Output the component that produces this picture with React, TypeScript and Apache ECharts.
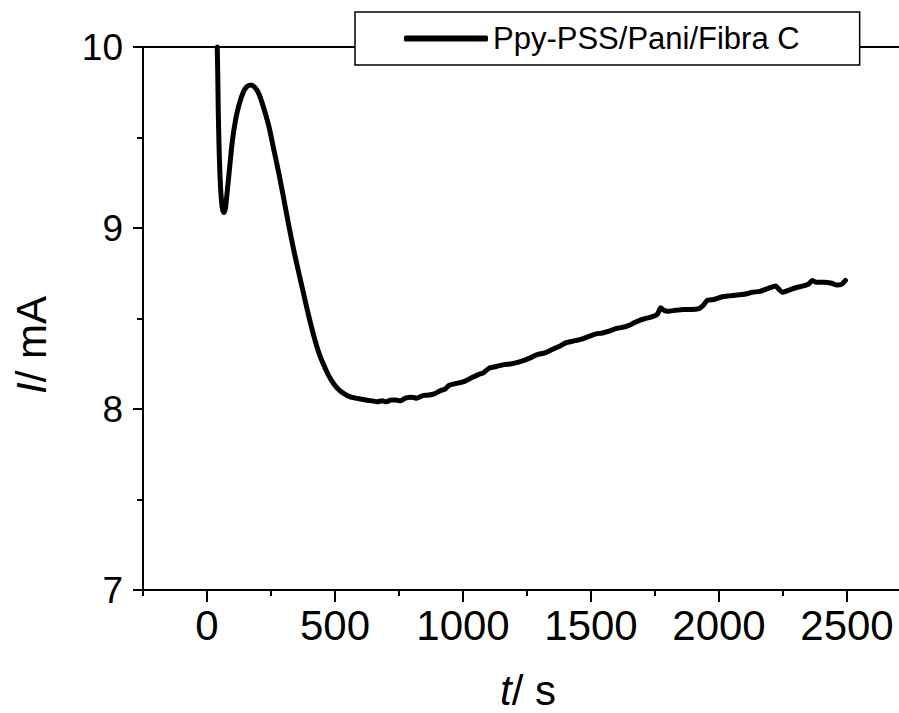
import React, { useEffect, useRef } from "react";
import * as echarts from "echarts";

const seriesName = "Ppy-PSS/Pani/Fibra C";

const times = [
  40, 42, 44, 47, 51, 56, 61, 66, 72, 79, 88, 99, 112, 125, 140, 155, 172, 188, 203, 220,
  242, 260, 281, 300, 320, 340, 359, 380, 398, 418, 437, 457, 477, 497, 516, 535, 555, 580,
  600, 620, 645, 665, 685, 700, 720, 737, 755, 775, 800, 820, 845, 867, 890, 910, 930, 945,
  970, 1000, 1030, 1060, 1080, 1102, 1130, 1160, 1190, 1220, 1258, 1290, 1320, 1350, 1375,
  1401, 1430, 1460, 1490, 1520, 1545, 1570, 1600, 1635, 1660, 1690, 1713, 1740, 1760, 1772,
  1785, 1800, 1830, 1860, 1890, 1922, 1940, 1954, 1980, 2013, 2040, 2070, 2104, 2130, 2160,
  2190, 2221, 2235, 2247, 2270, 2300, 2330, 2350, 2364, 2380, 2410, 2440, 2460, 2480, 2494
];

const currents = [
  10.0, 9.85, 9.65, 9.45, 9.28, 9.16, 9.1, 9.085, 9.11, 9.2, 9.33, 9.48, 9.6, 9.68, 9.745,
  9.78, 9.79, 9.775, 9.74, 9.67, 9.56, 9.44, 9.3, 9.16, 9.01, 8.87, 8.75, 8.62, 8.51, 8.4,
  8.31, 8.24, 8.18, 8.135, 8.105, 8.085, 8.07, 8.06, 8.055, 8.05, 8.045, 8.04, 8.045, 8.04,
  8.05, 8.05, 8.045, 8.06, 8.065, 8.06, 8.075, 8.077, 8.085, 8.1, 8.11, 8.13, 8.14, 8.15,
  8.17, 8.19, 8.2, 8.225, 8.235, 8.245, 8.25, 8.26, 8.28, 8.3, 8.31, 8.33, 8.345, 8.365,
  8.375, 8.385, 8.4, 8.415, 8.42, 8.43, 8.445, 8.455, 8.47, 8.49, 8.5, 8.51, 8.525, 8.56,
  8.545, 8.54, 8.545, 8.55, 8.55, 8.555, 8.575, 8.6, 8.605, 8.62, 8.625, 8.63, 8.635, 8.645,
  8.65, 8.665, 8.68, 8.66, 8.645, 8.655, 8.67, 8.68, 8.69, 8.71, 8.7, 8.7, 8.695, 8.685,
  8.69, 8.71
];

const xMajorTicks = [0, 500, 1000, 1500, 2000, 2500];
const xMinorTicks = [-250, 250, 750, 1250, 1750, 2250];
const yMajorTicks = [7, 8, 9, 10];
const yMinorTicks = [7.5, 8.5, 9.5];

const FONT = "'Liberation Sans', Arial, Helvetica, sans-serif";

export default function App() {
  const ref = useRef<HTMLDivElement>(null);

  useEffect(() => {
    if (!ref.current) return;
    const chart = echarts.init(ref.current, undefined, { renderer: "svg" });
    const data = times.map((t, k) => [t, currents[k]]);

    chart.setOption({
      animation: false,
      backgroundColor: "#ffffff",
      grid: {
        left: 143,
        top: 47,
        width: 768,
        height: 543,
        outerBoundsMode: "none",
        containLabel: false,
        show: true,
        borderColor: "#000",
        borderWidth: 2,
        backgroundColor: "transparent",
      },
      legend: {
        left: 355,
        top: 12,
        padding: [8, 60, 8, 49],
        backgroundColor: "#fff",
        borderColor: "#000",
        borderWidth: 1.5,
        borderRadius: 0,
        icon: "roundRect",
        itemWidth: 84,
        itemHeight: 6,
        selectedMode: false,
        data: [{ name: seriesName }],
        textStyle: {
          color: "#000",
          fontFamily: FONT,
          fontSize: 31,
          lineHeight: 37,
        },
      },
      xAxis: [
        {
          type: "value",
          min: -250,
          max: 2750,
          position: "bottom",
          splitLine: { show: false },
          axisLine: { show: true, onZero: false, lineStyle: { color: "#000", width: 2 } },
          axisTick: {
            show: true,
            inside: false,
            length: 12,
            customValues: xMajorTicks,
            lineStyle: { color: "#000", width: 2 },
          },
          axisLabel: {
            customValues: xMajorTicks,
            formatter: (v: number) => String(v),
            margin: 14,
            color: "#000",
            fontFamily: FONT,
            fontSize: 42,
          },
        },
        {
          type: "value",
          min: -250,
          max: 2750,
          position: "bottom",
          splitLine: { show: false },
          axisLine: { show: false, onZero: false },
          axisTick: {
            show: true,
            inside: false,
            length: 6,
            customValues: xMinorTicks,
            lineStyle: { color: "#000", width: 2 },
          },
          axisLabel: { show: false },
        },
      ],
      yAxis: [
        {
          type: "value",
          min: 7,
          max: 10,
          position: "left",
          splitLine: { show: false },
          axisLine: { show: true, onZero: false, lineStyle: { color: "#000", width: 2 } },
          axisTick: {
            show: true,
            inside: false,
            length: 10,
            customValues: yMajorTicks,
            lineStyle: { color: "#000", width: 2 },
          },
          axisLabel: {
            customValues: yMajorTicks,
            formatter: (v: number) => String(v),
            margin: 20,
            color: "#000",
            fontFamily: FONT,
            fontSize: 37,
          },
        },
        {
          type: "value",
          min: 7,
          max: 10,
          position: "left",
          splitLine: { show: false },
          axisLine: { show: false, onZero: false },
          axisTick: {
            show: true,
            inside: false,
            length: 6,
            customValues: yMinorTicks,
            lineStyle: { color: "#000", width: 2 },
          },
          axisLabel: { show: false },
        },
      ],
      series: [
        {
          name: seriesName,
          type: "line",
          xAxisIndex: 0,
          yAxisIndex: 0,
          data,
          showSymbol: false,
          symbol: "none",
          smooth: 0.2,
          clip: false,
          itemStyle: { color: "#000" },
          lineStyle: { color: "#000", width: 5, cap: "round", join: "round" },
        },
      ],
      graphic: [
        {
          type: "text",
          x: 528,
          y: 690,
          style: {
            text: "{i|t}/ s",
            fill: "#000",
            fontFamily: FONT,
            fontSize: 42,
            align: "center",
            verticalAlign: "middle",
            rich: {
              i: { fontStyle: "italic", fontFamily: FONT, fontSize: 42, fill: "#000" },
            },
          },
        },
        {
          type: "text",
          x: 31,
          y: 345,
          rotation: Math.PI / 2,
          style: {
            text: "{i|I}/ mA",
            fill: "#000",
            fontFamily: FONT,
            fontSize: 42,
            align: "center",
            verticalAlign: "middle",
            rich: {
              i: { fontStyle: "italic", fontFamily: FONT, fontSize: 42, fill: "#000" },
            },
          },
        },
      ],
    });

    return () => chart.dispose();
  }, []);

  return (
    <div
      ref={ref}
      style={{ position: "absolute", left: 0, top: 0, width: 899, height: 713 }}
    />
  );
}
